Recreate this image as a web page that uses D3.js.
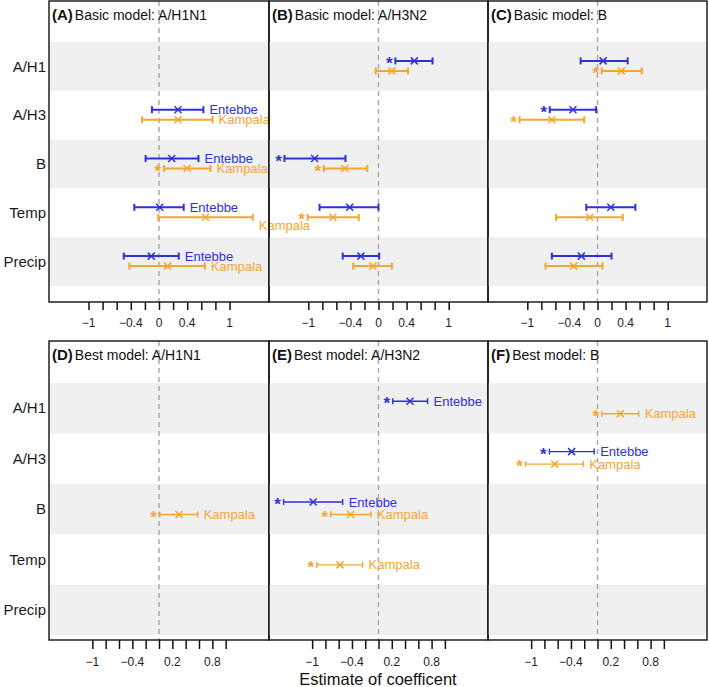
<!DOCTYPE html>
<html>
<head>
<meta charset="utf-8">
<script src="https://cdn.jsdelivr.net/npm/d3@7"></script>
<style>
  html, body { margin: 0; padding: 0; background: #fff; }
  svg { display: block; font-family: "Liberation Sans", Arial, sans-serif; }
</style>
</head>
<body>
<svg id="chart" width="709" height="687"></svg>
<script>
// ---------------- DATA ----------------
const rowNames = ["A/H1", "A/H3", "B", "Temp", "Precip"];
const cities = ["Entebbe", "Kampala"];
const panelLetters = ["(A)", "(B)", "(C)", "(D)", "(E)", "(F)"];
const panelTitles = ["Basic model: A/H1N1", "Basic model: A/H3N2", "Basic model: B",
                     "Best model: A/H1N1", "Best model: A/H3N2", "Best model: B"];
const tickValues = [-1, -0.8, -0.6, -0.4, -0.2, 0, 0.2, 0.4, 0.6, 0.8, 1];
const topTickLabelValues = [-1, -0.4, 0, 0.4, 1];
const bottomTickLabelValues = [-1, -0.4, 0.2, 0.8];
const xAxisTitle = "Estimate of coefficent";

// [row, city, lower, estimate, upper, significant]
const panelA = [
  ["A/H3", "Entebbe", -0.10, 0.27, 0.63, 0],
  ["A/H3", "Kampala", -0.24, 0.27, 0.76, 0],
  ["B", "Entebbe", -0.19, 0.18, 0.56, 0],
  ["B", "Kampala", 0.07, 0.40, 0.73, 1],
  ["Temp", "Entebbe", -0.35, 0.01, 0.35, 0],
  ["Temp", "Kampala", -0.01, 0.66, 1.33, 0],
  ["Precip", "Entebbe", -0.50, -0.11, 0.28, 0],
  ["Precip", "Kampala", -0.42, 0.12, 0.65, 0]
];
const panelB = [
  ["A/H1", "Entebbe", 0.24, 0.51, 0.77, 1],
  ["A/H1", "Kampala", -0.04, 0.19, 0.42, 0],
  ["B", "Entebbe", -1.34, -0.91, -0.47, 1],
  ["B", "Kampala", -0.78, -0.48, -0.16, 1],
  ["Temp", "Entebbe", -0.84, -0.41, 0.00, 0],
  ["Temp", "Kampala", -1.01, -0.65, -0.28, 1],
  ["Precip", "Entebbe", -0.51, -0.25, 0.01, 0],
  ["Precip", "Kampala", -0.36, -0.08, 0.19, 0]
];
const panelC = [
  ["A/H1", "Entebbe", -0.24, 0.08, 0.43, 0],
  ["A/H1", "Kampala", 0.06, 0.34, 0.63, 1],
  ["A/H3", "Entebbe", -0.68, -0.35, -0.02, 1],
  ["A/H3", "Kampala", -1.11, -0.65, -0.19, 1],
  ["Temp", "Entebbe", -0.16, 0.19, 0.54, 0],
  ["Temp", "Kampala", -0.59, -0.11, 0.36, 0],
  ["Precip", "Entebbe", -0.65, -0.23, 0.20, 0],
  ["Precip", "Kampala", -0.74, -0.34, 0.07, 0]
];
const panelD = [
  ["B", "Kampala", 0.01, 0.30, 0.58, 1]
];
const panelE = [
  ["A/H1", "Entebbe", 0.215, 0.475, 0.74, 1],
  ["B", "Entebbe", -1.43, -0.985, -0.54, 1],
  ["B", "Kampala", -0.72, -0.42, -0.115, 1],
  ["Temp", "Kampala", -0.93, -0.58, -0.24, 1]
];
const panelF = [
  ["A/H1", "Kampala", 0.065, 0.345, 0.62, 1],
  ["A/H3", "Entebbe", -0.725, -0.39, -0.05, 1],
  ["A/H3", "Kampala", -1.085, -0.645, -0.215, 1]
];
const panelData = [panelA, panelB, panelC, panelD, panelE, panelF];
const showCityLabels = [true, false, false, true, true, true];

// ---------------- LAYOUT / STYLE ----------------
const cityColor = d3.scaleOrdinal().domain(cities).range(["#3030D8", "#F4A630"]);
const colEdges = [49, 269, 488, 707];
const rowLayouts = [
  { top: 1, bottom: 302, bandTop: 42, bandBottom: 286, domain: [-1.56, 1.56],
    offsets: { Entebbe: -5.5, Kampala: 4.5 }, lineW: 2, capH: 3.5, tickLen: 8,
    tickLabelY: 327, labels: topTickLabelValues },
  { top: 341, bottom: 640, bandTop: 383, bandBottom: 635, domain: [-1.65, 1.65],
    offsets: { Entebbe: -7, Kampala: 5.5 }, lineW: 1.4, capH: 3, tickLen: 9,
    tickLabelY: 666, labels: bottomTickLabelValues }
];
const fmt = v => (v < 0 ? "\u2212" : "") + String(Math.abs(v)).replace(/^0(?=\.)/, "0");

const svg = d3.select("#chart");

panelData.forEach((data, pi) => {
  const r = Math.floor(pi / 3), c = pi % 3;
  const L = rowLayouts[r];
  const x0 = colEdges[c], x1 = colEdges[c + 1];
  const x = d3.scaleLinear().domain(L.domain).range([x0, x1]);
  const y = d3.scaleBand().domain(rowNames).range([L.bandTop, L.bandBottom]).padding(0);
  const g = svg.append("g");

  // alternating shaded bands
  g.selectAll("rect.band").data(rowNames.filter((d, i) => i % 2 === 0)).join("rect")
    .attr("class", "band")
    .attr("x", x0).attr("width", x1 - x0)
    .attr("y", d => y(d)).attr("height", y.bandwidth())
    .attr("fill", "#F0F0F0");

  // zero reference line
  g.append("line")
    .attr("x1", x(0)).attr("x2", x(0))
    .attr("y1", L.top).attr("y2", L.bottom)
    .attr("stroke", "#AAAAAA").attr("stroke-width", 1.5)
    .attr("stroke-dasharray", "5,4");

  // row labels (only left column)
  if (c === 0) {
    g.selectAll("text.rowlab").data(rowNames).join("text")
      .attr("class", "rowlab")
      .attr("x", x0 - 3)
      .attr("y", d => y(d) + y.bandwidth() / 2)
      .attr("dy", "0.35em")
      .attr("text-anchor", "end")
      .attr("font-size", 15)
      .attr("fill", "#1a1a1a")
      .text(d => d);
  }

  // x axis ticks
  const axis = d3.axisBottom(x).tickValues(tickValues).tickSize(L.tickLen).tickFormat("");
  const ag = g.append("g").attr("transform", `translate(0,${L.bottom})`).call(axis);
  ag.select(".domain").remove();
  ag.selectAll(".tick line").attr("stroke", "#111").attr("stroke-width", 1.5);
  g.selectAll("text.ticklab").data(L.labels).join("text")
    .attr("class", "ticklab")
    .attr("x", d => x(d)).attr("y", L.tickLabelY)
    .attr("text-anchor", "middle").attr("font-size", 12).attr("fill", "#222")
    .text(d => fmt(d));

  // error bars
  const items = data.map(d => ({ row: d[0], city: d[1], lo: d[2], est: d[3], hi: d[4], sig: d[5] }));
  const yc = d => y(d.row) + y.bandwidth() / 2 + L.offsets[d.city];
  const eg = g.selectAll("g.eb").data(items).join("g").attr("class", "eb");
  eg.append("line")
    .attr("x1", d => x(d.lo)).attr("x2", d => x(d.hi))
    .attr("y1", yc).attr("y2", yc)
    .attr("stroke", d => cityColor(d.city)).attr("stroke-width", L.lineW);
  ["lo", "hi"].forEach(k => {
    eg.append("line")
      .attr("x1", d => x(d[k])).attr("x2", d => x(d[k]))
      .attr("y1", d => yc(d) - L.capH).attr("y2", d => yc(d) + L.capH)
      .attr("stroke", d => cityColor(d.city)).attr("stroke-width", L.lineW);
  });
  eg.append("path")
    .attr("d", d => {
      const cx = x(d.est), cy = yc(d), s = 3.5;
      return `M${cx - s},${cy - s}L${cx + s},${cy + s}M${cx - s},${cy + s}L${cx + s},${cy - s}`;
    })
    .attr("stroke", d => cityColor(d.city)).attr("stroke-width", 1.5).attr("fill", "none");
  eg.filter(d => d.sig).append("text")
    .attr("x", d => x(d.lo) - 6).attr("y", d => yc(d) + 8)
    .attr("text-anchor", "middle").attr("font-size", 17).attr("font-weight", "bold")
    .attr("fill", d => cityColor(d.city))
    .text("*");
  if (showCityLabels[pi]) {
    eg.append("text")
      .attr("x", d => x(d.hi) + 6)
      .attr("y", d => yc(d) + (x(d.hi) + 54 > x1 + 30 ? 8 : 0))
      .attr("dy", "0.35em")
      .attr("font-size", 13)
      .attr("fill", d => cityColor(d.city))
      .text(d => d.city);
  }

  // panel title
  const t = g.append("text")
    .attr("x", x0 + 3).attr("y", L.top + 19)
    .attr("font-size", 14).attr("fill", "#111");
  t.append("tspan").attr("font-weight", "bold").attr("font-size", 15).text(panelLetters[pi]);
  t.append("tspan").attr("dx", 2).text(panelTitles[pi]);

  // panel border
  g.append("rect")
    .attr("x", x0).attr("y", L.top)
    .attr("width", x1 - x0).attr("height", L.bottom - L.top)
    .attr("fill", "none").attr("stroke", "#111").attr("stroke-width", 1.4);
});

// x axis title
svg.append("text")
  .attr("x", (colEdges[0] + colEdges[3]) / 2).attr("y", 685)
  .attr("text-anchor", "middle").attr("font-size", 16.5).attr("fill", "#111")
  .text(xAxisTitle);
</script>
</body>
</html>
